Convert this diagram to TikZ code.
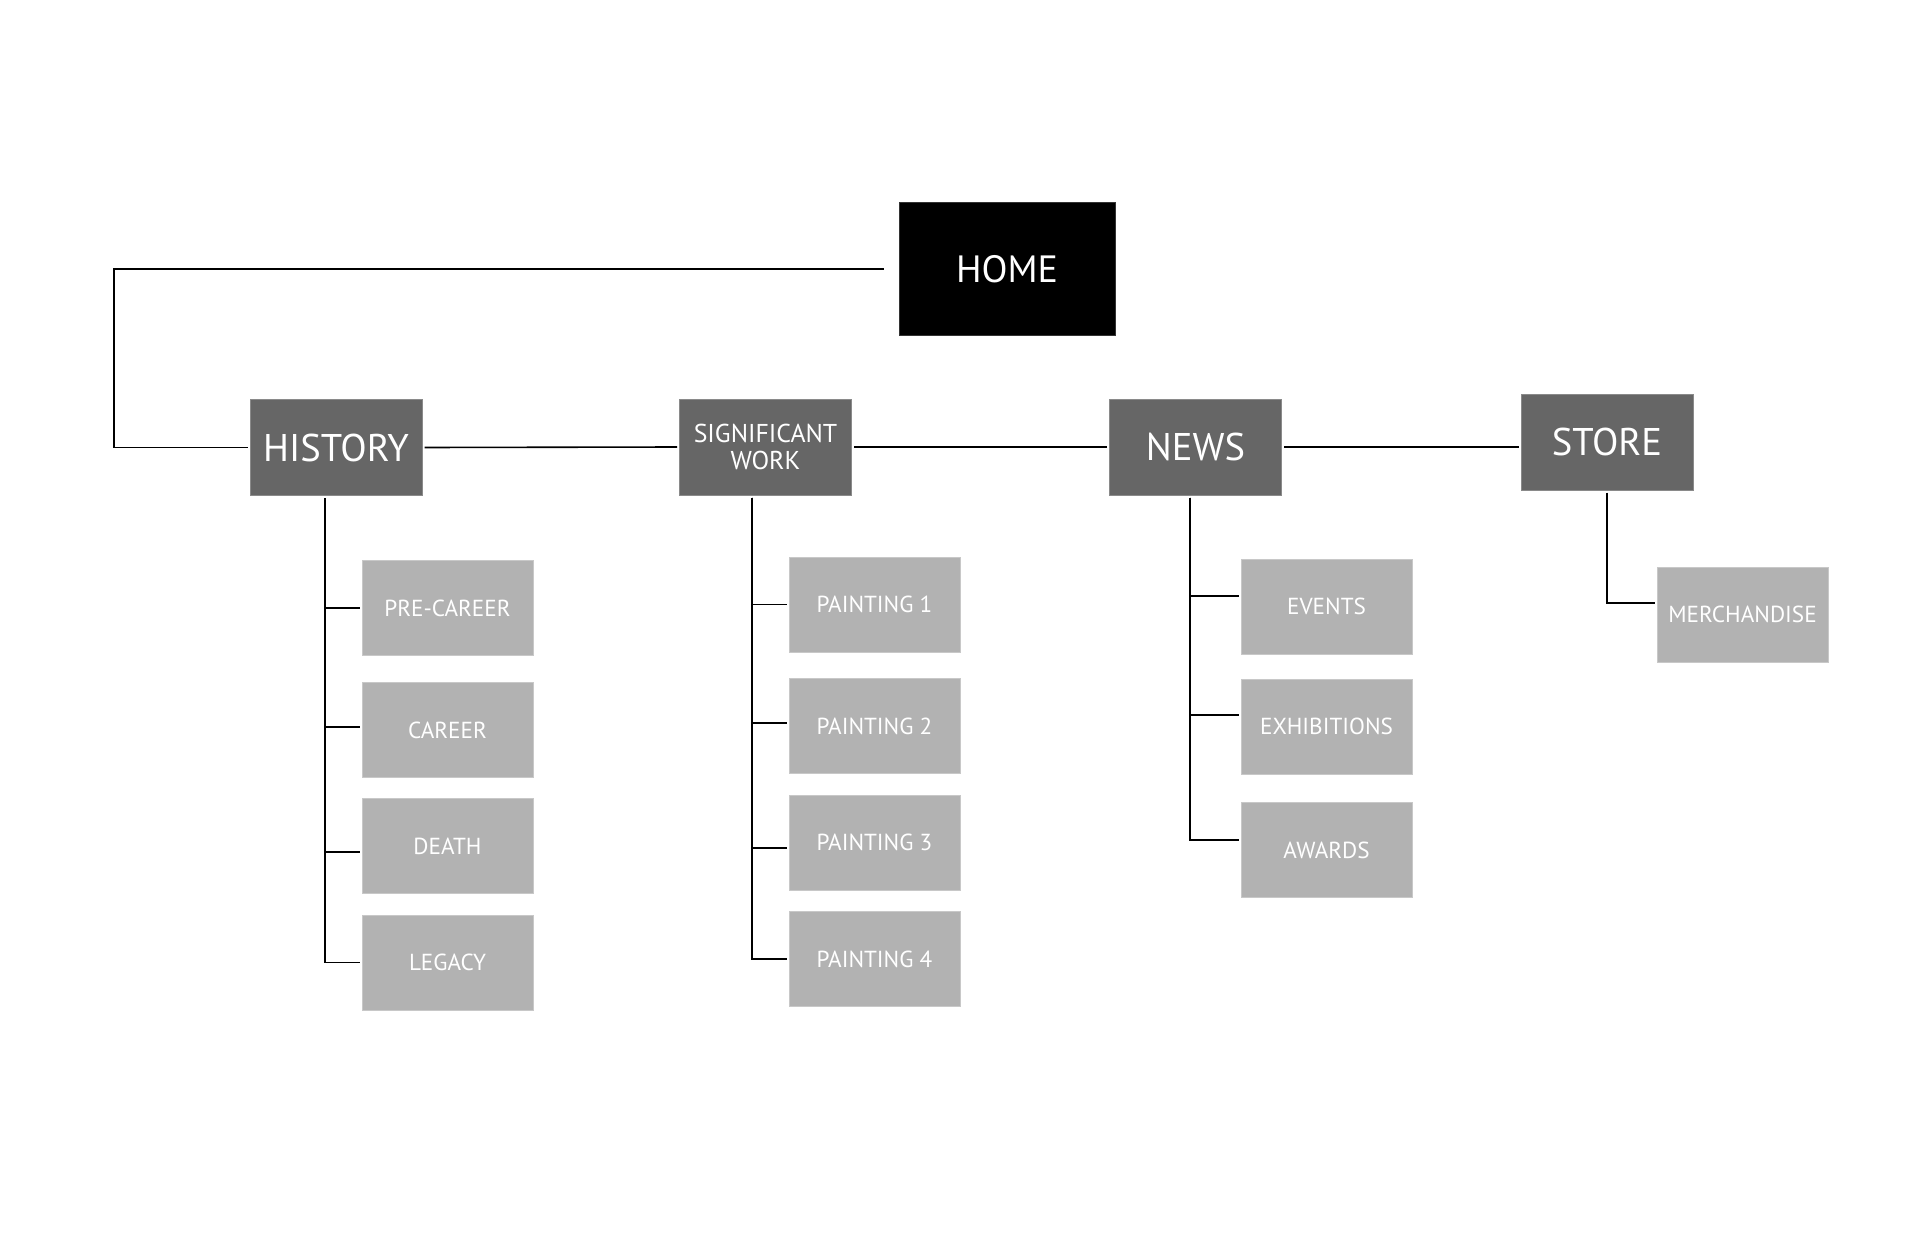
\documentclass[tikz,border=0pt]{standalone}
\usepackage{fontspec}
\setmainfont{PT Sans}
\definecolor{midgray}{HTML}{666666}
\definecolor{midedge}{HTML}{8A8A8A}
\definecolor{lightbox}{HTML}{B2B2B2}
\definecolor{lightedge}{HTML}{C8C8C8}
\tikzset{
  homebox/.style={fill=black, draw=black!80, line width=0.5pt, minimum width=108pt, minimum height=66pt, inner sep=0pt, text=white, font=\fontsize{19}{22}\selectfont},
  mainbox/.style={fill=midgray, draw=midedge, line width=0.5pt, minimum width=86pt, minimum height=48pt, inner sep=0pt, text=white, align=center, font=\fontsize{19.3}{22}\selectfont},
  subbox/.style={fill=lightbox, draw=lightedge, line width=0.5pt, minimum width=85.5pt, minimum height=47.5pt, inner sep=0pt, text=white, font=\fontsize{11.6}{14}\selectfont},
  link/.style={draw=black, line width=0.8pt, shorten <=1pt, shorten >=1pt}
}
\begin{document}
\begin{tikzpicture}[x=0.5pt, y=-0.5pt]
\useasboundingbox (0,0) rectangle (1920,1241);
\fill[white] (0,0) rectangle (1920,1241);

% top level
\node[homebox] (home) at (1007,269) {HOME};

% second level
\node[mainbox] (history) at (336,447.5) {HISTORY};
\node[mainbox, font=\fontsize{12.9}{13.5}\selectfont] (sig) at (765.5,447) {SIGNIFICANT\\WORK};
\node[mainbox] (news) at (1195.5,447) {NEWS};
\node[mainbox] (store) at (1607,442) {STORE};

% children
\node[subbox] (precareer) at (447.5,608) {PRE-CAREER};
\node[subbox] (career) at (447.5,730) {CAREER};
\node[subbox] (death) at (447.5,846) {DEATH};
\node[subbox] (legacy) at (447.5,962.5) {LEGACY};

\node[subbox] (p1) at (874.5,604.5) {PAINTING 1};
\node[subbox] (p2) at (874.5,726) {PAINTING 2};
\node[subbox] (p3) at (874.5,842.5) {PAINTING 3};
\node[subbox] (p4) at (874.5,959) {PAINTING 4};

\node[subbox] (events) at (1326.5,606.5) {EVENTS};
\node[subbox] (exhib) at (1326.5,726.5) {EXHIBITIONS};
\node[subbox] (awards) at (1326.5,850) {AWARDS};

\node[subbox] (merch) at (1742.5,614.5) {MERCHANDISE};

% connectors
\coordinate (lc) at (114,447.5);
\draw[link, shorten <=7.5pt, shorten >=1pt] (home.west) -| (lc) -- (history.west);
\draw[link] (history.east) -- (sig.west);
\draw[link] (sig.east) -- (news.west);
\draw[link] (news.east) -- (news.east -| store.west);

% history branch
\coordinate (th) at ([xshift=-5.5pt]history.south);
\draw[link] (th) |- (precareer.west);
\draw[link] (th) |- ([yshift=1.5pt]career.west);
\draw[link] (th) |- ([yshift=-3pt]death.west);
\draw[link] (th) |- (legacy.west);

% significant work branch
\coordinate (ts) at ([xshift=-6.75pt]sig.south);
\draw[link] (ts) |- (p1.west);
\draw[link] (ts) |- ([yshift=1.5pt]p2.west);
\draw[link] (ts) |- ([yshift=-2.75pt]p3.west);
\draw[link] (ts) |- (p4.west);

% news branch
\coordinate (tn) at ([xshift=-2.75pt]news.south);
\draw[link] (tn) |- ([yshift=5.25pt]events.west);
\draw[link] (tn) |- ([yshift=5.75pt]exhib.west);
\draw[link] (tn) |- ([yshift=5pt]awards.west);

% store branch
\draw[link] (store.south) |- ([yshift=5.75pt]merch.west);
\end{tikzpicture}
\end{document}
